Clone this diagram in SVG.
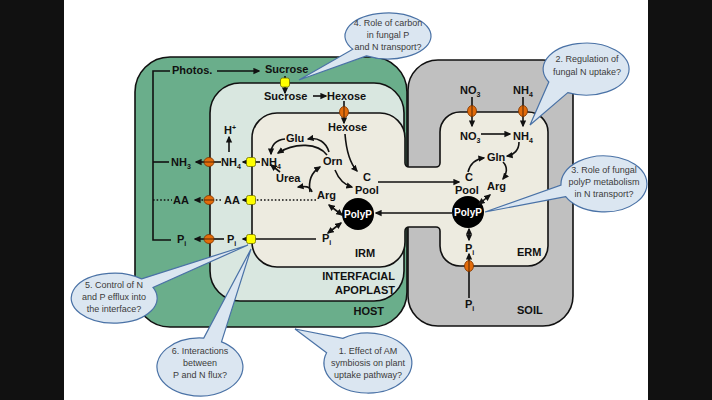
<svg xmlns="http://www.w3.org/2000/svg" width="712" height="400" viewBox="0 0 712 400">
<defs>
<style>
.lb{font-family:"Liberation Sans",Arial,sans-serif;font-weight:bold;font-size:11px;fill:#111}
.s{font-size:7px}
.wt{fill:#fff;font-size:10px}
.bt{font-family:"Liberation Sans",Arial,sans-serif;font-size:9px;fill:#3b3b3b;text-anchor:middle}
.ln{fill:none;stroke:#111;stroke-width:1.6}
.dt{stroke-dasharray:1.6 2}
.bub{fill:#dbe6f1;stroke:#4a72a6;stroke-width:1.2}
.yt{fill:#ffff00;stroke:#707000;stroke-width:0.8}
.ot{fill:#e36c0a;stroke:#7a3300;stroke-width:0.8}
.otl{stroke:#4a2000;stroke-width:0.9}
.box{stroke:#111;stroke-width:1.6}
</style>
<marker id="a" viewBox="0 0 10 10" refX="8" refY="5" markerWidth="7" markerHeight="7" markerUnits="userSpaceOnUse" orient="auto-start-reverse">
<path d="M0,0.5 L10,5 L0,9.5 z" fill="#111"/>
</marker>
</defs>
<rect x="0" y="0" width="712" height="400" fill="#fff"/>
<rect x="0" y="0" width="64" height="400" fill="#111"/>
<rect x="648" y="0" width="64" height="400" fill="#111"/>

<g id="soil">
<rect class="box" x="408" y="60" width="165" height="266" rx="30" fill="#c0c0c0"/>
<text class="lb" x="517" y="314">SOIL</text>
</g>
<g id="host">
<rect class="box" x="135" y="57" width="272" height="270" rx="35" fill="#6aae8b" stroke-width="1.8"/>
<text class="lb" x="384" y="315" text-anchor="end">HOST</text>
<text class="lb" x="172" y="74">Photos.</text>
<text class="lb" x="265" y="73">Sucrose</text>
<text class="lb" x="171" y="166">NH<tspan class="s" dy="2.5">3</tspan></text>
<text class="lb" x="173" y="204">AA</text>
<text class="lb" x="177" y="243">P<tspan class="s" dy="2.5">i</tspan></text>
</g>
<g id="apoplast">
<rect class="box" x="210" y="83" width="194" height="218" rx="30" fill="#d9e7e0"/>
<text class="lb" x="395" y="280" text-anchor="end">INTERFACIAL</text>
<text class="lb" x="395" y="294" text-anchor="end">APOPLAST</text>
<text class="lb" x="264" y="100">Sucrose</text>
<text class="lb" x="327" y="100">Hexose</text>
<text class="lb" x="224" y="134">H<tspan class="s" dy="-4">+</tspan></text>
<text class="lb" x="221" y="166">NH<tspan class="s" dy="2.5">4</tspan></text>
<text class="lb" x="224" y="204">AA</text>
<text class="lb" x="227" y="243">P<tspan class="s" dy="2.5">i</tspan></text>
</g>
<g id="fungus">
<path class="box" fill="#edebe0" d="M277,113 H380 A25,25 0 0 1 405,138 V163 A4,4 0 0 0 409,167 H436 A4,4 0 0 0 440,163 V132 A20,20 0 0 1 460,112 H528 A20,20 0 0 1 548,132 V246 A20,20 0 0 1 528,266 H460 A20,20 0 0 1 440,246 V231 A4,4 0 0 0 436,227 H409 A4,4 0 0 0 405,231 V242 A25,25 0 0 1 380,267 H277 A25,25 0 0 1 252,242 V138 A25,25 0 0 1 277,113 Z"/>
</g>
<g id="irm">
<text class="lb" x="355" y="257">IRM</text>
<text class="lb" x="328" y="131">Hexose</text>
<text class="lb" x="286" y="142">Glu</text>
<text class="lb" x="323" y="165">Orn</text>
<text class="lb" x="261" y="166">NH<tspan class="s" dy="2.5">4</tspan></text>
<text class="lb" x="276" y="182">Urea</text>
<text class="lb" x="317" y="199">Arg</text>
<text class="lb" x="363" y="181">C</text>
<text class="lb" x="355" y="194">Pool</text>
<text class="lb" x="322" y="242">P<tspan class="s" dy="2.5">i</tspan></text>
<circle cx="358" cy="214" r="16" fill="#000"/>
<text class="lb wt" x="358" y="218" text-anchor="middle">PolyP</text>
</g>
<g id="erm">
<text class="lb" x="517" y="256">ERM</text>
<text class="lb" x="460" y="94">NO<tspan class="s" dy="2.5">3</tspan></text>
<text class="lb" x="513" y="94">NH<tspan class="s" dy="2.5">4</tspan></text>
<text class="lb" x="460" y="140">NO<tspan class="s" dy="2.5">3</tspan></text>
<text class="lb" x="513" y="140">NH<tspan class="s" dy="2.5">4</tspan></text>
<text class="lb" x="487" y="161">Gln</text>
<text class="lb" x="465" y="181">C</text>
<text class="lb" x="455" y="194">Pool</text>
<text class="lb" x="487" y="190">Arg</text>
<text class="lb" x="465" y="252">P<tspan class="s" dy="2.5">i</tspan></text>
<text class="lb" x="465" y="308">P<tspan class="s" dy="2.5">i</tspan></text>
<circle cx="468" cy="212" r="16" fill="#000"/>
<text class="lb wt" x="468" y="216" text-anchor="middle">PolyP</text>
</g>

<g id="connectors">
<line class="ln" x1="217" y1="71" x2="259" y2="71" marker-end="url(#a)"/>
<polyline class="ln" points="170,71 153,71 153,240 171,240"/>
<line class="ln" x1="153" y1="162" x2="169" y2="162"/>
<line class="ln dt" x1="153" y1="200" x2="172" y2="200"/>
<line class="ln" x1="285" y1="76" x2="285" y2="93" marker-end="url(#a)"/>
<line class="ln" x1="313" y1="96" x2="326" y2="96" marker-end="url(#a)"/>
<line class="ln" x1="344" y1="101" x2="344" y2="123" marker-end="url(#a)"/>
<path class="ln" d="M345,134 Q347,160 357,171" marker-end="url(#a)"/>
<line class="ln" x1="378" y1="182" x2="459" y2="182" marker-end="url(#a)"/>
<line class="ln" x1="452" y1="213" x2="376" y2="213" marker-end="url(#a)"/>
<path class="ln" d="M329,152 C326,142 318,137 308,139" marker-end="url(#a)"/>
<path class="ln" d="M327,155 C318,143 295,142 278,153" marker-end="url(#a)"/>
<path class="ln" d="M285,139 C276,140 271,145 271,154" marker-end="url(#a)"/>
<line class="ln" x1="280" y1="172" x2="271" y2="165" marker-end="url(#a)"/>
<path class="ln" d="M312,192 C310,186 305,186 298,187" marker-end="url(#a)"/>
<path class="ln" d="M310,192 C308,180 312,172 320,167" marker-end="url(#a)"/>
<path class="ln" d="M335,170 C339,180 345,185 352,187" marker-end="url(#a)"/>
<line class="ln" x1="329" y1="205" x2="342" y2="215" marker-start="url(#a)" marker-end="url(#a)"/>
<line class="ln" x1="328" y1="233" x2="341" y2="223" marker-start="url(#a)" marker-end="url(#a)"/>
<line class="ln" x1="260" y1="162" x2="243" y2="162" marker-end="url(#a)"/>
<line class="ln" x1="221" y1="162" x2="196" y2="162" marker-end="url(#a)"/>
<line class="ln" x1="229" y1="152" x2="229" y2="137" marker-end="url(#a)"/>
<line class="ln dt" x1="316" y1="200" x2="243" y2="200" marker-end="url(#a)"/>
<line class="ln dt" x1="221" y1="200" x2="195" y2="200" marker-end="url(#a)"/>
<line class="ln" x1="316" y1="239" x2="243" y2="239" marker-end="url(#a)"/>
<line class="ln" x1="224" y1="239" x2="195" y2="239" marker-end="url(#a)"/>
<line class="ln" x1="472" y1="97" x2="472" y2="126" marker-end="url(#a)"/>
<line class="ln" x1="523" y1="97" x2="523" y2="126" marker-end="url(#a)"/>
<line class="ln" x1="481" y1="134" x2="510" y2="134" marker-end="url(#a)"/>
<path class="ln" d="M519,142 C519,150 514,155 507,156" marker-end="url(#a)"/>
<path class="ln" d="M468,172 C470,164 476,159 484,158" marker-end="url(#a)"/>
<path class="ln" d="M503,162 C508,167 507,174 503,179" marker-end="url(#a)"/>
<line class="ln" x1="490" y1="195" x2="479" y2="204" marker-start="url(#a)" marker-end="url(#a)"/>
<line class="ln" x1="469" y1="229" x2="469" y2="240" marker-start="url(#a)" marker-end="url(#a)"/>
<line class="ln" x1="469" y1="298" x2="469" y2="254" marker-end="url(#a)"/>
</g>

<g id="transporters">
<rect class="yt" x="280.5" y="78" width="9" height="9" rx="2"/>
<rect class="yt" x="246.5" y="157.5" width="9" height="9" rx="2"/>
<rect class="yt" x="246.5" y="195.5" width="9" height="9" rx="2"/>
<rect class="yt" x="246.5" y="234.5" width="9" height="9" rx="2"/>
<g><ellipse class="ot" cx="209" cy="162" rx="5" ry="4.5"/><line class="otl" x1="204" y1="162" x2="214" y2="162"/></g>
<g><ellipse class="ot" cx="209" cy="200" rx="5" ry="4.5"/><line class="otl" x1="204" y1="200" x2="214" y2="200"/></g>
<g><ellipse class="ot" cx="209" cy="239" rx="5" ry="4.5"/><line class="otl" x1="204" y1="239" x2="214" y2="239"/></g>
<g><ellipse class="ot" cx="344" cy="112" rx="4.5" ry="5.5"/><line class="otl" x1="344" y1="106.5" x2="344" y2="117.5"/></g>
<g><ellipse class="ot" cx="472" cy="111" rx="4.5" ry="5.5"/><line class="otl" x1="472" y1="105.5" x2="472" y2="116.5"/></g>
<g><ellipse class="ot" cx="523" cy="111" rx="4.5" ry="5.5"/><line class="otl" x1="523" y1="105.5" x2="523" y2="116.5"/></g>
<g><ellipse class="ot" cx="469" cy="266" rx="4.5" ry="5.5"/><line class="otl" x1="469" y1="260.5" x2="469" y2="271.5"/></g>
</g>

<g id="q1">
<path class="bub" d="M326.6,352.7 L295,329 L342.8,338.4 A44,30 0 1 1 326.6,352.7 Z"/>
<text class="bt" x="368" y="354">1. Effect of AM</text>
<text class="bt" x="368" y="366">symbiosis on plant</text>
<text class="bt" x="368" y="378">uptake pathway?</text>
</g>
<g id="q2">
<path class="bub" d="M567.8,92.6 L530,125 L548.8,82 A43,26 0 1 1 567.8,92.6 Z"/>
<text class="bt" x="587" y="62">2. Regulation of</text>
<text class="bt" x="587" y="75">fungal N uptake?</text>
</g>
<g id="q3">
<path class="bub" d="M565.7,196.7 L485,212 L561,185 A43,28 0 1 1 565.7,196.7 Z"/>
<text class="bt" x="604" y="173">3. Role of fungal</text>
<text class="bt" x="604" y="185">polyP metabolism</text>
<text class="bt" x="604" y="197">in N transport?</text>
</g>
<g id="q4">
<path class="bub" d="M366.5,55.9 L299,80 L352.8,49.2 A43,23 0 1 1 366.5,55.9 Z"/>
<text class="bt" x="388" y="26">4. Role of carbon</text>
<text class="bt" x="388" y="38">in fungal P</text>
<text class="bt" x="388" y="50">and N transport?</text>
</g>
<g id="q5">
<path class="bub" d="M141.6,278.9 L248,245 L153,287.4 A43,25 0 1 1 141.6,278.9 Z"/>
<text class="bt" x="114" y="288">5. Control of N</text>
<text class="bt" x="114" y="300">and P efflux into</text>
<text class="bt" x="114" y="312">the interface?</text>
</g>
<g id="q6">
<path class="bub" d="M203.7,338.1 L251,249 L221.5,341.9 A43,29 0 1 1 203.7,338.1 Z"/>
<text class="bt" x="200" y="354">6. Interactions</text>
<text class="bt" x="200" y="366">between</text>
<text class="bt" x="200" y="378">P and N flux?</text>
</g>
</svg>
